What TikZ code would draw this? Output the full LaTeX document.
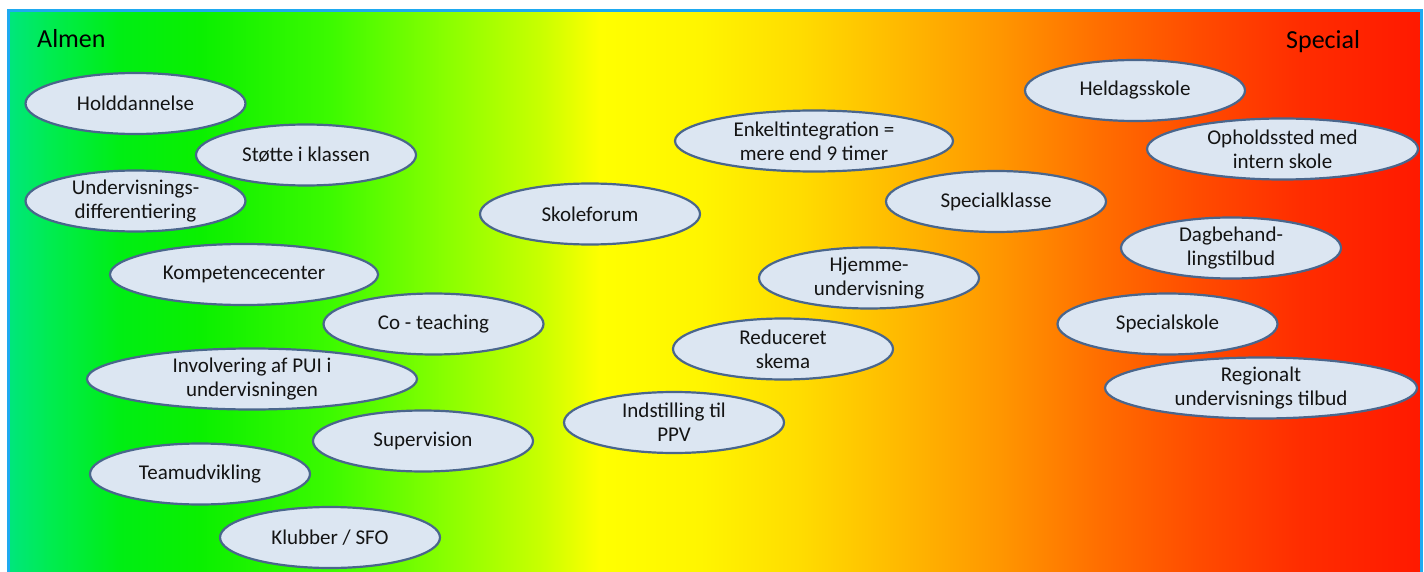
\documentclass[tikz,border=0pt]{standalone}
\usepackage{fontspec}
\setmainfont{Carlito}
\usetikzlibrary{shapes.geometric}
\definecolor{c01}{RGB}{0,230,125}
\definecolor{c02}{RGB}{0,236,80}
\definecolor{c03}{RGB}{0,238,20}
\definecolor{c04}{RGB}{10,240,0}
\definecolor{c05}{RGB}{60,250,0}
\definecolor{c06}{RGB}{140,255,0}
\definecolor{c07}{RGB}{200,255,0}
\definecolor{c08}{RGB}{255,255,0}
\definecolor{c09}{RGB}{255,245,0}
\definecolor{c10}{RGB}{255,220,0}
\definecolor{c11}{RGB}{255,185,0}
\definecolor{c12}{RGB}{255,150,0}
\definecolor{c13}{RGB}{255,110,0}
\definecolor{c14}{RGB}{255,75,0}
\definecolor{c15}{RGB}{255,45,0}
\definecolor{c16}{RGB}{255,25,0}
\definecolor{ovalfill}{RGB}{220,230,242}
\definecolor{ovalline}{RGB}{74,102,140}
\definecolor{framecol}{RGB}{30,170,240}
\definecolor{txt}{RGB}{20,20,20}
\pgfdeclarehorizontalshading{bgshade}{100bp}{%
color(0bp)=(c01); color(25bp)=(c01); color(26.49bp)=(c02); color(28.96bp)=(c03);
color(31.79bp)=(c04); color(36.39bp)=(c05); color(40.64bp)=(c06); color(43.83bp)=(c07);
color(45.95bp)=(c08); color(49.49bp)=(c09); color(53.03bp)=(c10); color(56.56bp)=(c11);
color(60.10bp)=(c12); color(63.64bp)=(c13); color(67.18bp)=(c14); color(70.72bp)=(c15);
color(75bp)=(c16); color(100bp)=(c16)}
\begin{document}
\begin{tikzpicture}[x=1pt,y=-1pt,
  oval/.style={ellipse, draw=ovalline, line width=2.2pt, fill=ovalfill,
    inner sep=0pt, minimum width=220pt, minimum height=61pt,
    align=center, text=txt, font=\fontsize{21}{24}\selectfont},
  headlabel/.style={anchor=base west, inner sep=0pt, text=black,
    font=\fontsize{26}{30}\selectfont}]
\useasboundingbox (0,0) rectangle (1424,572);
\path[shading=bgshade] (8,11) rectangle (1421,580);
\draw[framecol, line width=3pt] (8,580) -- (8,11) -- (1421,11) -- (1421,580);
\node[headlabel] (almen) at (37,48) {Almen};
\node[headlabel] (special) at (1286,49) {Special};
% left group
\node[oval] (hold) at (135.5,103.5) {Holddannelse};
\node[oval] (stotte) at (306,155) {Støtte i klassen};
\node[oval] (undiff) at (135.5,201) {Undervisnings-\\differentiering};
\node[oval, minimum width=268pt] (komp) at (244,274.5) {Kompetencecenter};
\node[oval] (coteach) at (433.5,324) {Co - teaching};
\node[oval, minimum width=330pt] (invol) at (252,379) {Involvering af PUI i\\undervisningen};
\node[oval] (superv) at (423,441) {Supervision};
\node[oval] (team) at (200,474) {Teamudvikling};
\node[oval] (klub) at (330,537.5) {Klubber / SFO};
% middle group
\node[oval] (skole) at (590,214) {Skoleforum};
\node[oval, minimum width=278pt] (enkelt) at (814,141) {Enkeltintegration =\\mere end 9 timer};
\node[oval] (speck) at (996,201.5) {Specialklasse};
\node[oval] (hjem) at (869,278) {Hjemme-\\undervisning};
\node[oval] (redu) at (783,349) {Reduceret\\skema};
\node[oval] (indst) at (674,422.5) {Indstilling til\\PPV};
% right group
\node[oval] (held) at (1135,90.5) {Heldagsskole};
\node[oval, minimum width=271pt] (ophold) at (1282.5,149) {Opholdssted med\\intern skole};
\node[oval] (dagb) at (1231,248) {Dagbehand-\\lingstilbud};
\node[oval] (specs) at (1167.5,324) {Specialskole};
\node[oval, minimum width=312pt] (region) at (1261,388) {Regionalt\\undervisnings tilbud};
\end{tikzpicture}
\end{document}
